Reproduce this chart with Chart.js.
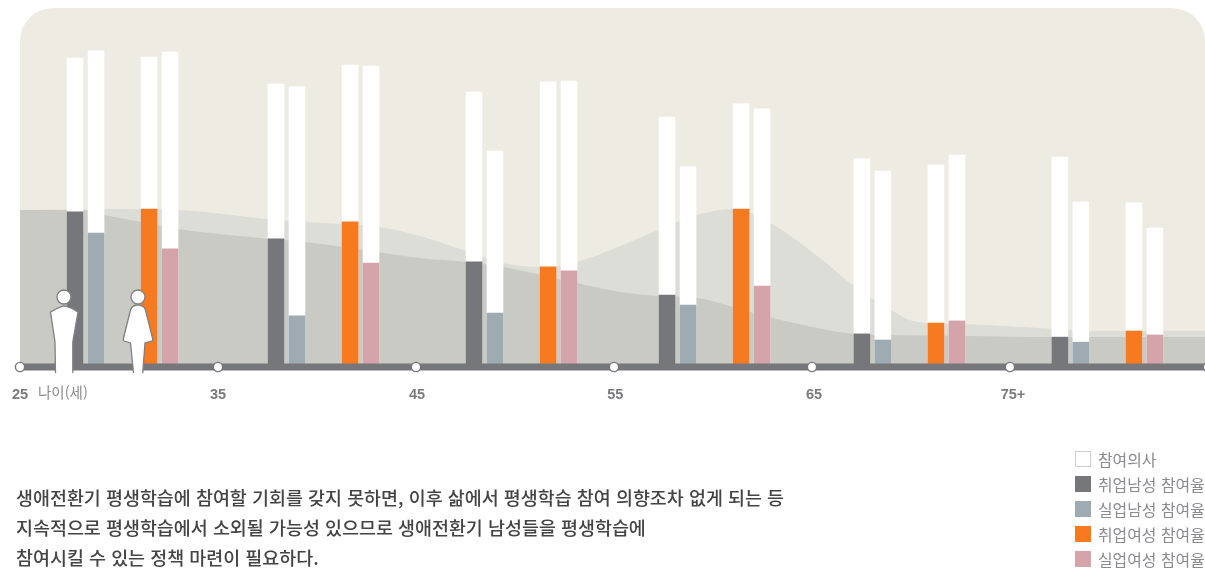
<!DOCTYPE html>
<html lang="ko"><head><meta charset="utf-8">
<script src="https://cdn.jsdelivr.net/npm/chart.js@4"></script>
<style>
html,body{margin:0;padding:0;background:#fff;width:1205px;height:568px;overflow:hidden;font-family:"Noto Sans CJK KR","Noto Sans",sans-serif}
#wrap{position:relative;width:1205px;height:568px}
canvas{position:absolute;left:0;top:0}
svg{position:absolute;left:0;top:0;pointer-events:none}
#ageLabel{position:absolute;left:38px;top:382px;font-size:14.5px;line-height:20px;color:#8a8b8e}
#note{position:absolute;left:16px;top:481.5px;font-size:18.45px;line-height:30px;font-weight:500;color:#444446;white-space:nowrap}
#legend{position:absolute;left:1075px;top:0}
.li{position:absolute;left:0;width:130px;height:16px;white-space:nowrap}
.li i{position:absolute;left:0;top:0;width:16px;height:16px;box-sizing:border-box}
.li span{position:absolute;left:23px;top:-3.5px;font-size:15.9px;line-height:24px;color:#8a8b8e}
</style></head><body>
<div id="wrap">
<canvas id="c" width="1205" height="568"></canvas>
<svg width="1205" height="568" viewBox="0 0 1205 568">
<g fill="#fff" stroke="#7f8083" stroke-width="1.3">
<path d="M55.5 373 L55 342 L50.5 312 Q56 308 63 306 L66 306 Q73 308 78 312 L72.8 342 L72.8 373" />
<circle cx="64" cy="297" r="7"/>
<path d="M133.5 373 L130.5 343 L124 341 Q123 340 123.5 338 L130.5 310 Q131.5 306 136.5 305 L139.5 305 Q144.5 306 145.5 310 L152.5 338 Q153 340 152 341 L145 343 L142.7 373"/>
<circle cx="138" cy="297" r="7"/>
</g></svg>
<div id="ageLabel">나이(세)</div>
<div id="note">생애전환기 평생학습에 참여할 기회를 갖지 못하면, 이후 삶에서 평생학습 참여 의향조차 없게 되는 등<br>지속적으로 평생학습에서 소외될 가능성 있으므로 생애전환기 남성들을 평생학습에<br>참여시킬 수 있는 정책 마련이 필요하다.</div>
<div id="legend"></div>
</div>
<script>
const markerAges = [25, 35, 45, 55, 65, 75, 85];
const tickAges = [25, 35, 45.05, 55.07, 65.1, 75.15];
const tickLabels = ['25', '35', '45', '55', '65', '75+'];
const menGroupAges = [28.31, 38.46, 48.46, 58.21, 68.05, 78.05];
const womenGroupAges = [32.05, 42.20, 52.20, 61.95, 71.79, 81.79];
const seriesNames = ['참여의사', '취업남성 참여율', '실업남성 참여율', '취업여성 참여율', '실업여성 참여율'];
const intentEmployedMen = [85.8, 78.6, 76.4, 69.4, 57.8, 58.3];
const intentUnemployedMen = [87.8, 77.8, 60.0, 55.6, 54.4, 45.8];
const intentEmployedWomen = [86.1, 83.9, 79.2, 73.1, 56.1, 45.6];
const intentUnemployedWomen = [87.5, 83.6, 79.4, 71.7, 58.9, 38.6];
const rateEmployedMen = [43.1, 35.6, 29.2, 20.0, 9.2, 8.3];
const rateUnemployedMen = [37.2, 14.2, 15.0, 17.2, 7.5, 6.9];
const rateEmployedWomen = [43.9, 40.3, 27.8, 43.9, 12.2, 10.0];
const rateUnemployedWomen = [32.8, 28.9, 26.7, 22.5, 12.8, 8.9];
const womenCurveAges = [25, 29.24, 33, 37.5, 39.4, 41.3, 43.1, 45.2, 47.53, 49.39, 51.26, 53.13, 57.27, 59.19, 61.01, 62.88, 65.4, 67.12, 68.99, 70.3, 72.73, 77.12, 78.99, 84.85];
const womenCurve = [43.6, 43.9, 43.6, 41.1, 40.3, 39.7, 38.9, 36.4, 32.2, 28.9, 27.8, 29.2, 38.1, 42.2, 43.9, 40.0, 30.3, 22.5, 15.8, 12.5, 11.9, 10.6, 10.0, 10.0];
const menCurveAges = [25, 28.03, 29.24, 31.11, 32.98, 37.53, 39.39, 42.07, 45.2, 47.53, 49.39, 51.26, 53.13, 55.3, 57.27, 59.19, 61.87, 64.39, 67.12, 68.99, 72.73, 77.12, 84.85];
const menCurve = [43.6, 43.6, 42.2, 40.3, 38.3, 35.6, 34.7, 32.8, 30.3, 29.2, 27.8, 25.6, 23.3, 20.8, 19.7, 19.2, 15.3, 11.9, 9.2, 8.9, 8.6, 8.3, 8.3];

const COL = {bg:'#eeebe2', light:'#dcddd6', dark:'#c9cac3', axis:'#76777b', white:'#ffffff',
  em:'#76777b', um:'#9eabb3', ew:'#f77a20', uw:'#d5a4ab'};
const GAP = 0.53;
const pts = (xs, ys, dx = 0) => ys.map((y, i) => ({x: xs[i] + dx, y}));
const area = (label, xs, ys, color, order) => ({type:'line', label, data:pts(xs, ys), order,
  borderWidth:0, pointRadius:0, fill:'origin', backgroundColor:color, cubicInterpolationMode:'monotone'});
const bar = (label, data, color, order) => ({type:'bar', label, data, order, backgroundColor:color,
  borderWidth:0, barThickness:16, grouped:false});

const backdrop = {id:'backdrop', beforeDatasetsDraw(chart) {
  const {ctx, chartArea:a, scales:{y}} = chart;
  ctx.save(); ctx.fillStyle = COL.bg; ctx.beginPath();
  const t = 8, b = y.getPixelForValue(0);
  ctx.roundRect(a.left, t, a.right - a.left, b - t, [33, 33, 0, 0]);
  ctx.fill(); ctx.restore();
}};

new Chart(document.getElementById('c'), {
  type:'bar',
  plugins:[backdrop],
  data:{datasets:[
    {type:'line', label:'눈금', data:markerAges.map(x => ({x, y:0})), order:0, showLine:false, clip:false,
      pointRadius:4.6, pointBorderWidth:1.4, pointBackgroundColor:'#fff', pointBorderColor:COL.axis},
    {type:'line', label:'축', data:[{x:25, y:0}, {x:84.85, y:0}], order:1, clip:false,
      borderColor:COL.axis, borderWidth:7, pointRadius:0},
    bar('취업남성 참여율', pts(menGroupAges, rateEmployedMen, -GAP), COL.em, 2),
    bar('실업남성 참여율', pts(menGroupAges, rateUnemployedMen, GAP), COL.um, 2),
    bar('취업여성 참여율', pts(womenGroupAges, rateEmployedWomen, -GAP), COL.ew, 2),
    bar('실업여성 참여율', pts(womenGroupAges, rateUnemployedWomen, GAP), COL.uw, 2),
    bar('참여의사', [...pts(menGroupAges, intentEmployedMen, -GAP), ...pts(menGroupAges, intentUnemployedMen, GAP),
      ...pts(womenGroupAges, intentEmployedWomen, -GAP), ...pts(womenGroupAges, intentUnemployedWomen, GAP)], COL.white, 3),
    area('남성 곡선', menCurveAges, menCurve, COL.dark, 4),
    area('여성 곡선', womenCurveAges, womenCurve, COL.light, 5)
  ]},
  options:{
    responsive:false, animation:false, devicePixelRatio:1,
    layout:{autoPadding:false, padding:{left:20, right:0, top:7, bottom:0}},
    plugins:{legend:{display:false}, tooltip:{enabled:false}},
    scales:{
      x:{type:'linear', min:25, max:84.85, offset:false,
        afterFit(s){ s.height = 201; },
        grid:{display:false, offset:false}, border:{display:false},
        afterBuildTicks(s){ s.ticks = tickAges.map(value => ({value})); },
        ticks:{autoSkip:false, maxRotation:0, padding:11, color:'#7b7b7e', font:{family:'"Liberation Sans"', size:14.5, weight:'bold'},
          callback:v => tickLabels[tickAges.indexOf(v)]}},
      y:{display:false, min:0, max:100}
    }
  }
});

const legendColors = [null, COL.em, COL.um, COL.ew, COL.uw];
const legendTops = [451, 476, 501, 526, 551];
const lg = document.getElementById('legend');
seriesNames.forEach((n, i) => {
  const d = document.createElement('div'); d.className = 'li'; d.style.top = legendTops[i] + 'px';
  const b = document.createElement('i');
  if (legendColors[i]) b.style.background = legendColors[i]; else { b.style.background = '#fff'; b.style.border = '1.5px solid #cfcfcf'; }
  const s = document.createElement('span'); s.textContent = n;
  d.append(b, s); lg.append(d);
});
</script></body></html>
